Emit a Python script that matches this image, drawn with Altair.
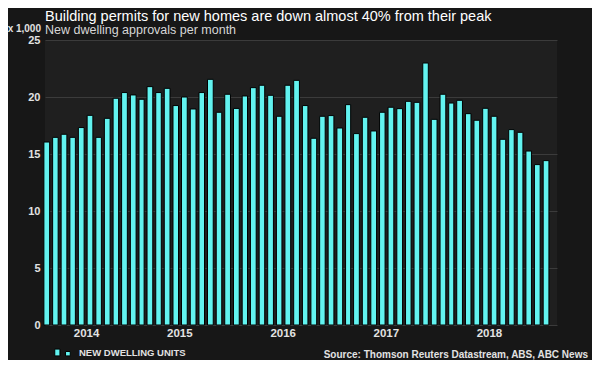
import altair as alt
import pandas as pd

TITLE = "Building permits for new homes are down almost 40% from their peak"
SUBTITLE = "New dwelling approvals per month"
UNIT = "x 1,000"
SOURCE = "Source: Thomson Reuters Datastream, ABS, ABC News"
SERIES = "NEW DWELLING UNITS"

# Monthly data, Mar 2014 - Jan 2019 (thousands of dwelling units)
months = pd.date_range("2014-03-01", "2019-01-01", freq="MS").strftime("%Y-%m-%d").tolist()
approvals = [
    16.05, 16.46, 16.73, 16.46, 17.32, 18.39, 16.46, 18.13, 19.89, 20.39,  # 2014
    20.18, 19.80, 20.91, 20.39, 20.76, 19.25, 20.00, 18.95, 20.39, 21.55, 18.66, 20.24,  # 2015
    19.00, 20.09, 20.82, 21.03, 20.15, 18.31, 21.03, 21.46, 19.25, 16.38, 18.31, 18.37,  # 2016
    17.28, 19.33, 16.79, 18.22, 17.02, 18.66, 19.10, 18.98, 19.62, 19.53, 22.98, 18.04,  # 2017
    20.24, 19.47, 19.71, 18.54, 17.96, 19.01, 18.31, 16.29, 17.14, 16.90, 15.26, 14.07,  # 2018
    14.42,  # 2019
]
year_labels = [2014, 2015, 2016, 2017, 2018]
y_ticks = [0, 5, 10, 15, 20, 25]
x_domain = ["2014-03-12", "2019-02-26"]

CYAN = "#62F3F0"
TXT = "#e2e2e2"
FONT = "Liberation Sans"

df = pd.DataFrame({"date": months, "value": approvals, "series": SERIES})

d0, d1 = pd.Timestamp(x_domain[0]), pd.Timestamp(x_domain[1])
mids = []
for y in year_labels:
    s = max(pd.Timestamp(f"{y}-01-01"), d0)
    e = min(pd.Timestamp(f"{y + 1}-01-01"), d1)
    mids.append((s + (e - s) / 2).strftime("%Y-%m-%d"))
years_df = pd.DataFrame({"mid": mids, "year": [str(y) for y in year_labels]})

xscale = alt.Scale(domain=x_domain)

legend_symbol = "M-1,-0.44H-0.33V0.44H-1Z M0.39,-0.13H1V0.44H0.39Z"

bars = alt.Chart(df).mark_bar(
    width=alt.RelativeBandSize(0.77), stroke="#000000", strokeWidth=1
).encode(
    x=alt.X(
        "yearmonth(date):T",
        scale=xscale,
        axis=alt.Axis(
            title=None, labels=False, ticks=False, grid=True, gridColor="#3b3b3b",
            domain=True, domainColor="#8a8a8a", tickCount="year",
        ),
    ),
    y=alt.Y(
        "value:Q",
        scale=alt.Scale(domain=[0, 25]),
        axis=alt.Axis(
            values=y_ticks, grid=True, gridColor="#3b3b3b", domain=False, ticks=False,
            labelPadding=5, labelFont=FONT, labelFontSize=11, labelFontWeight="bold",
            labelColor=TXT, title=None,
        ),
    ),
    color=alt.Color(
        "series:N",
        scale=alt.Scale(range=[CYAN]),
        legend=alt.Legend(
            title=None, orient="none", legendX=9, legendY=304, padding=0,
            symbolType=legend_symbol, symbolSize=240, symbolStrokeColor="#000000",
            symbolStrokeWidth=1, symbolOpacity=1, labelFont=FONT, labelFontSize=9.5,
            labelFontWeight="bold", labelColor=TXT, labelOffset=8,
        ),
    ),
)

year_text = alt.Chart(years_df).mark_text(
    font=FONT, fontSize=11.5, fontWeight="bold", color=TXT, baseline="alphabetic"
).encode(
    x=alt.X("mid:T", scale=xscale, axis=None),
    y=alt.value(297),
    text="year:N",
)

texts_df = pd.DataFrame({"t": [TITLE, SUBTITLE, UNIT, SOURCE], "k": ["title", "sub", "unit", "src"]})
base_t = alt.Chart(texts_df)

title_text = base_t.transform_filter(alt.datum.k == "title").mark_text(
    font=FONT, fontSize=14.5, color="#ffffff", align="left", baseline="alphabetic"
).encode(x=alt.value(0), y=alt.value(-19.5), text="t:N")

sub_text = base_t.transform_filter(alt.datum.k == "sub").mark_text(
    font=FONT, fontSize=12.5, color="#d6d6d6", align="left", baseline="alphabetic"
).encode(x=alt.value(0), y=alt.value(-6.5), text="t:N")

unit_text = base_t.transform_filter(alt.datum.k == "unit").mark_text(
    font=FONT, fontSize=10, fontWeight="bold", color=TXT, align="right", baseline="alphabetic"
).encode(x=alt.value(-4), y=alt.value(-8), text="t:N")

source = base_t.transform_filter(alt.datum.k == "src").mark_text(
    font=FONT, fontSize=10, fontWeight="bold", color=TXT, align="right", baseline="alphabetic"
).encode(x=alt.value(543), y=alt.value(318), text="t:N")

chart = alt.layer(bars, year_text, title_text, sub_text, unit_text, source).properties(
    width=512,
    height=285,
    padding={"left": 37, "top": 32, "right": 35, "bottom": 35},
    autosize=alt.AutoSizeParams(type="none"),
    background="#171717",
).configure_view(fill="#1f1f1f", stroke=None)

chart.save("out.html", embed_options={"renderer": "svg", "actions": False})
